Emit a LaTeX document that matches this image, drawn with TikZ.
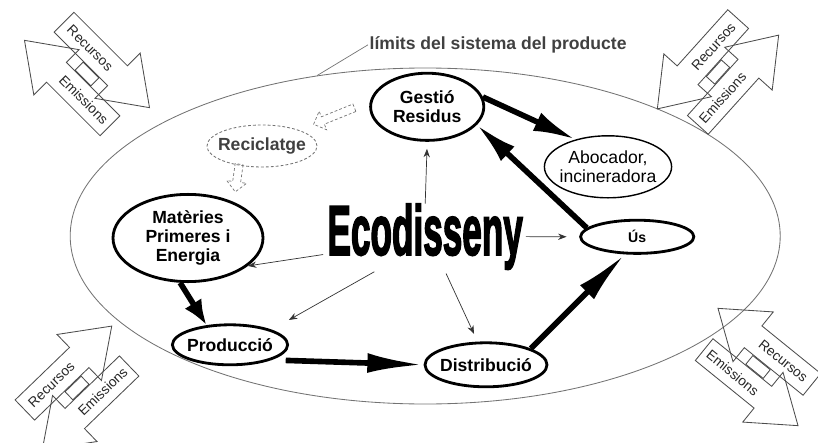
\documentclass[tikz,border=0pt]{standalone}
\usepackage{fontspec}
\setmainfont{Liberation Sans}
\newfontfamily\ecofont[BoldFeatures={FakeBold=3}]{Liberation Sans}
\usetikzlibrary{shapes.geometric,arrows.meta}

\tikzset{
  stage/.style={ellipse, draw, line width=2pt, inner xsep=-4pt, inner ysep=0pt, align=center,
    font=\bfseries\fontsize{12.5}{13.5}\selectfont},
  flowbold/.style={line width=4pt, -{Latex[length=#1,width=14pt]}},
  flowbold/.default=30pt,
  ecoarrow/.style={draw=black!80, line width=0.5pt, -{Stealth[length=6pt,width=4.5pt]}},
  flowline/.style={draw=black!70, line width=0.6pt},
  flowtext/.style={font=\fontsize{9.8}{10}\selectfont, text=black!85, inner sep=0pt},
  recflow/.style={draw=black!55, dash pattern=on 2pt off 1.5pt, line width=0.5pt}
}

\begin{document}
\begin{tikzpicture}[x=1cm,y=1cm]
\path[use as bounding box] (0,0) rectangle (20.45,11.05);
% system boundary
\node[ellipse, draw=black!55, line width=0.6pt, minimum width=17.75cm, minimum height=8.4cm] (sistema) at (10.63,5.15) {};
\node[anchor=west, inner sep=1pt, text=black!75, font=\bfseries\fontsize{12.5}{14}\selectfont] (limits) at (9.2,9.93) {límits del sistema del producte};
\draw[black!55, line width=0.5pt] (limits.west) -- (sistema.124);

% stages
\node[stage, minimum width=2.83cm, minimum height=1.68cm] (gestio) at (10.68,8.38) {Gestió\\Residus};
\node[stage, line width=1pt, font=\fontsize{12.5}{14}\selectfont, minimum width=3.18cm, minimum height=1.55cm] (abocador) at (15.2,6.88) {Abocador,\\incineradora};
\node[stage, draw=black!55, dash pattern=on 2pt off 1.5pt, line width=0.6pt, text=black!75, minimum width=2.75cm, minimum height=1.05cm] (reciclatge) at (6.55,7.4) {Reciclatge};
\node[stage, minimum width=3.75cm, minimum height=2.18cm] (materies) at (4.7,5.1) {Matèries\\Primeres i\\Energia};
\node[stage, font=\bfseries\fontsize{10}{11}\selectfont, minimum width=2.83cm, minimum height=0.83cm] (us) at (15.93,5.13) {Ús};
\node[stage, minimum width=2.88cm, minimum height=1.0cm] (produccio) at (5.75,2.43) {Producció};
\node[stage, minimum width=3.05cm, minimum height=1.1cm] (distribucio) at (12.15,1.93) {Distribució};
\node[anchor=base, inner sep=0pt, font=\ecofont\bfseries\fontsize{50}{50}\selectfont] (ecodisseny) at (10.63,4.68) {\scalebox{0.5}[1]{Ecodisseny}};

% life cycle
\draw[flowbold=18pt] (materies.-100) -- (produccio.140);
\draw[flowbold=40pt, shorten <=10pt] (produccio.-20) -- (distribucio.west);
\draw[flowbold=38pt] (distribucio.20) -- (us.235);
\draw[flowbold] (us.170) -- (gestio.-20);
\draw[flowbold] (gestio.10) -- (abocador.140);

% design influence
\draw[ecoarrow, shorten >=5pt] (ecodisseny.north) -- (gestio.south);
\draw[ecoarrow, shorten <=3pt] (ecodisseny.190) -- (materies.-25);
\draw[ecoarrow, shorten <=3pt, shorten >=14pt] (ecodisseny.215) -- (produccio.north east);
\draw[ecoarrow, shorten <=3pt, shorten >=6pt] (ecodisseny.300) -- (distribucio.110);
\draw[ecoarrow, shorten <=2pt, shorten >=9pt] (ecodisseny.east) -- (us.west);

% recycling
\foreach \px/\py/\ang/\len in {8.35/8.15/202/0.55, 5.93/6.6/262/0.35}{
  \draw[recflow, shift={(\px,\py)}, rotate=\ang] (-\len,0.1) -- (\len-0.25,0.1) -- (\len-0.25,0.25) -- (\len,0)
    -- (\len-0.25,-0.25) -- (\len-0.25,-0.1) -- (-\len,-0.1) -- cycle;
}

% resources and emissions
\foreach \cx/\cy/\ang/\dir in {2.175/9.2/-45/1, 17.95/9.25/48/-1, 1.925/1.35/44/1, 18.95/1.875/-39/-1}{
  \begin{scope}[shift={(\cx,\cy)}, rotate=\ang]
    \draw[flowline, xscale=\dir] (-1.32,0.16) -- (0.57,0.16) -- (0.57,-0.29) -- (1.7,0.51) -- (0.57,1.31) -- (0.57,0.86) -- (-1.32,0.86) -- cycle;
    \draw[flowline, xscale=-\dir, yscale=-1] (-1.32,0.16) -- (0.57,0.16) -- (0.57,-0.29) -- (1.7,0.51) -- (0.57,1.31) -- (0.57,0.86) -- (-1.32,0.86) -- cycle;
    \draw[flowline] (-0.28,-0.14) rectangle (0.28,0.14);
    \node[flowtext, rotate=\ang] at (-0.4*\dir,0.51) {Recursos};
    \node[flowtext, rotate=\ang] at (0.4*\dir,-0.51) {Emissions};
  \end{scope}
}
\end{tikzpicture}
\end{document}
